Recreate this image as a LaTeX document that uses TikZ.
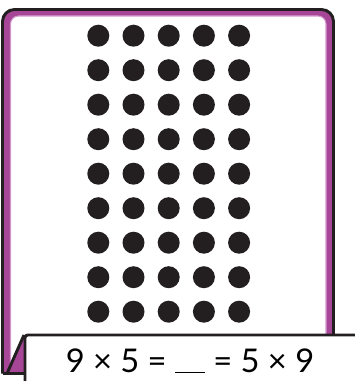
\documentclass[tikz,border=0pt]{standalone}
\usepackage{fontspec}
\setmainfont{Lato}
\usepackage{tikz}

\definecolor{cardpurple}{RGB}{167,70,151}
\definecolor{cardedge}{RGB}{210,150,205}
\definecolor{inkdark}{RGB}{35,31,32}

\begin{document}
\begin{tikzpicture}[x=0.75pt,y=-0.75pt,
    outline/.style={draw=inkdark,line width=2.2pt},
    counter/.style={circle,fill=inkdark,inner sep=0pt,minimum size=16.5pt}]
  \useasboundingbox (0,0) rectangle (354,381);
  % card with purple band
  \fill[cardpurple,rounded corners=9pt] (2.5,373.5) -- (2.5,9.5) -- (333.5,9.5) -- (333.5,373.5);
  \fill[white,rounded corners=6pt] (10.5,373.5) -- (10.5,16) -- (326,16) -- (326,373.5);
  \draw[cardedge,line width=0.8pt,rounded corners=6pt] (10.5,373.5) -- (10.5,16) -- (326,16) -- (326,373.5);
  \draw[outline,rounded corners=9pt] (2.5,373.5) -- (2.5,9.5) -- (333.5,9.5) -- (333.5,373.5);
  % 9 rows of 5 counters
  \foreach \c in {0,...,4}{
    \foreach \r in {0,...,8}{\node[counter] (d\c\r) at (98.3+35.2*\c,35.7+34.5*\r) {};}}
  % folded corner and label strip
  \fill[cardpurple] (24,335) -- (7,373.5) -- (24,373.5) -- cycle;
  \draw[outline] (24,335) -- (7,373.5);
  \draw[outline] (2.5,373.5) -- (24,373.5);
  \draw[outline,fill=white,rounded corners=2pt] (25,400) -- (25,335) -- (370,335) -- (370,400);
  \node[font=\fontsize{24.5}{28}\selectfont,anchor=base] (sum) at (190,372)
    {9 × 5 = \rule[-1pt]{22.5pt}{1.3pt} = 5 × 9};
\end{tikzpicture}
\end{document}
